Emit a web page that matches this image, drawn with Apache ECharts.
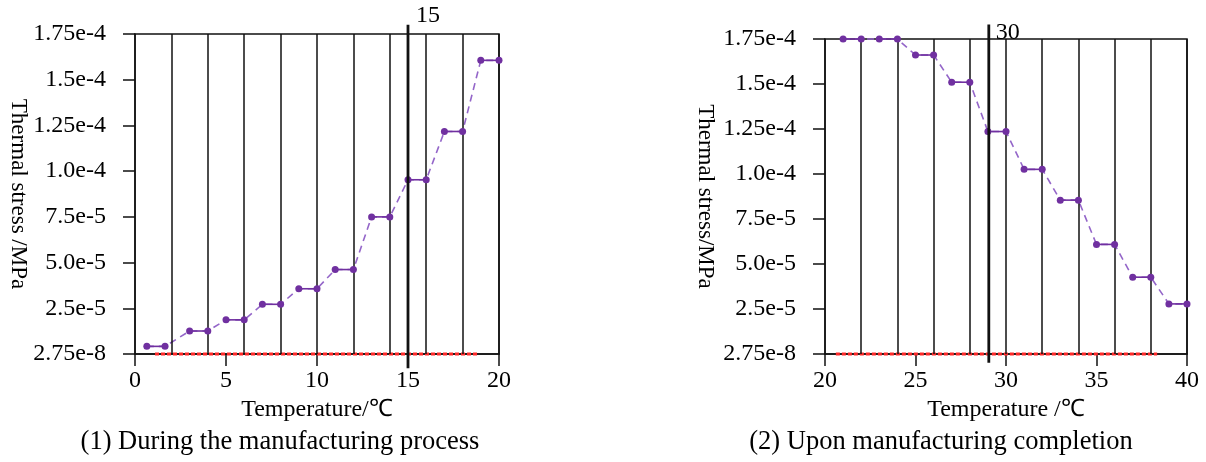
<!DOCTYPE html>
<html><head><meta charset="utf-8">
<script src="https://cdn.jsdelivr.net/npm/echarts@6/dist/echarts.min.js"></script>
<style>html,body{margin:0;padding:0;background:#fff}#c{width:1206px;height:462px}</style>
</head><body><div id="c"></div>
<script>
// ---- data ----
const yTickValues = [2.75e-8, 2.5e-5, 5e-5, 7.5e-5, 1e-4, 1.25e-4, 1.5e-4, 1.75e-4];
const yTickLabels = ['2.75e-8', '2.5e-5', '5.0e-5', '7.5e-5', '1.0e-4', '1.25e-4', '1.5e-4', '1.75e-4'];

const leftX = [0.65, 1.65, 3, 4, 5, 6, 7, 8, 9, 10, 11, 12, 13, 14, 15, 16, 17, 18, 19, 20];
const leftY = [4.2e-6, 4.2e-6, 1.26e-5, 1.26e-5, 1.87e-5, 1.87e-5, 2.72e-5, 2.72e-5, 3.57e-5, 3.57e-5,
               4.62e-5, 4.62e-5, 7.5e-5, 7.5e-5, 9.53e-5, 9.53e-5, 1.217e-4, 1.217e-4, 1.606e-4, 1.606e-4];
const leftVLines = [2, 4, 6, 8, 10, 12, 14, 16, 18, 20];
const leftMarkX = 15, leftMarkLabel = '15', leftMarkFrom = -7.7e-6, leftMarkTo = 1.8e-4;
const leftRedSpan = [1.1, 18.9];

const rightX = [21, 22, 23, 24, 25, 26, 27, 28, 29, 30, 31, 32, 33, 34, 35, 36, 37, 38, 39, 40];
const rightY = [1.75e-4, 1.75e-4, 1.75e-4, 1.75e-4, 1.661e-4, 1.661e-4, 1.51e-4, 1.51e-4, 1.236e-4, 1.236e-4,
                1.026e-4, 1.026e-4, 8.55e-5, 8.55e-5, 6.09e-5, 6.09e-5, 4.27e-5, 4.27e-5, 2.785e-5, 2.785e-5];
const rightVLines = [22, 24, 26, 28, 30, 32, 34, 36, 38, 40];
const rightMarkX = 29.05, rightMarkLabel = '30', rightMarkFrom = -4.8e-6, rightMarkTo = 1.83e-4;
const rightRedSpan = [20.6, 38.35];

const xTitles = ['Temperature/\u2103', 'Temperature /\u2103'];
const yTitles = ['Thermal stress /MPa', 'Thermal stress/MPa'];
const captions = ['(1) During the manufacturing process', '(2) Upon manufacturing completion'];

// ---- styles ----
const FONT = 'Liberation Serif';
const PURPLE = '#7030a0';
const PURPLE_DASH = '#9466c9';
const BLACK = '#111';

function yLabel(v) {
  let best = 0;
  for (let i = 1; i < yTickValues.length; i++) {
    if (Math.abs(yTickValues[i] - v) < Math.abs(yTickValues[best] - v)) best = i;
  }
  return yTickLabels[best];
}

function xAxisCfg(gi, min, max) {
  return {
    type: 'value', gridIndex: gi, min: min, max: max, interval: 5,
    name: xTitles[gi], nameLocation: 'middle', nameGap: 43,
    nameTextStyle: {fontFamily: FONT, fontSize: 24, color: '#000'},
    axisLine: {lineStyle: {color: BLACK, width: 1.5}},
    axisTick: {show: true, length: 12, inside: false, lineStyle: {color: BLACK, width: 1.5}},
    axisLabel: {fontFamily: FONT, fontSize: 24, color: '#000', margin: 15},
    splitLine: {show: false}
  };
}
function yAxisCfg(gi, gap) {
  return {
    type: 'value', gridIndex: gi, min: yTickValues[0], max: yTickValues[yTickValues.length - 1],
    name: yTitles[gi], nameLocation: 'middle', nameGap: gap, nameRotate: -90,
    nameTextStyle: {fontFamily: FONT, fontSize: 23, color: '#000'},
    axisLine: {show: true, lineStyle: {color: BLACK, width: 1.5}},
    axisTick: {show: true, length: 12, inside: false, customValues: yTickValues, lineStyle: {color: BLACK, width: 1.5}},
    axisLabel: {fontFamily: FONT, fontSize: 24, color: '#000', margin: 29, customValues: yTickValues, formatter: yLabel},
    splitLine: {show: false}
  };
}

function chartSeries(gi, xs, ys, vlines, mx, mlabel, mfrom, mto, red, labelOffset) {
  const s = [];
  // vertical lines carrier
  s.push({
    type: 'line', xAxisIndex: gi, yAxisIndex: gi, silent: true, data: [], z: 2,
    markLine: {
      silent: true, symbol: ['none', 'none'], label: {show: false},
      lineStyle: {color: BLACK, width: 1.5, type: 'solid'},
      data: vlines.map(v => ({xAxis: v}))
    }
  });
  // red dotted baseline
  s.push({
    type: 'line', xAxisIndex: gi, yAxisIndex: gi, clip: false, silent: true,
    data: [[red[0], yTickValues[0]], [red[1], yTickValues[0]]],
    symbol: 'none', lineStyle: {color: '#ff2a2a', width: 3, type: [4, 2]}, z: 3
  });
  // dashed connecting line
  s.push({
    type: 'line', xAxisIndex: gi, yAxisIndex: gi, silent: true, clip: false,
    data: xs.map((x, i) => [x, ys[i]]), symbol: 'none',
    lineStyle: {color: PURPLE_DASH, width: 1.6, type: [7, 5]}, z: 4
  });
  // solid pairs
  for (let i = 0; i + 1 < xs.length; i += 2) {
    s.push({
      type: 'line', xAxisIndex: gi, yAxisIndex: gi, silent: true, clip: false,
      data: [[xs[i], ys[i]], [xs[i + 1], ys[i + 1]]],
      symbol: 'circle', symbolSize: 7, showSymbol: true,
      itemStyle: {color: PURPLE}, lineStyle: {color: PURPLE, width: 1.6}, z: 5
    });
  }
  // thick marker line
  s.push({
    type: 'line', xAxisIndex: gi, yAxisIndex: gi, silent: true, clip: false,
    data: [[mx, mfrom], [mx, mto]], symbol: 'none',
    lineStyle: {color: BLACK, width: 2.8}, z: 6,
    endLabel: {show: true, formatter: () => mlabel, fontFamily: FONT, fontSize: 24, color: '#000', distance: 6, offset: labelOffset}
  });
  return s;
}

const option = {
  animation: false,
  backgroundColor: '#fff',
  title: [
    {text: captions[0], left: 275, top: 424, textAlign: 'center', textStyle: {fontFamily: FONT, fontSize: 26.5, fontWeight: 'normal', color: '#000'}},
    {text: captions[1], left: 936, top: 424, textAlign: 'center', textStyle: {fontFamily: FONT, fontSize: 26.5, fontWeight: 'normal', color: '#000'}}
  ],
  grid: [
    {left: 135, top: 34, width: 364, height: 320, show: true, borderColor: BLACK, borderWidth: 1.5, backgroundColor: 'transparent'},
    {left: 825, top: 39, width: 362, height: 315, show: true, borderColor: BLACK, borderWidth: 1.5, backgroundColor: 'transparent'}
  ],
  xAxis: [xAxisCfg(0, 0, 20), xAxisCfg(1, 20, 40)],
  yAxis: [yAxisCfg(0, 104), yAxisCfg(1, 108)],
  series: [].concat(
    chartSeries(0, leftX, leftY, leftVLines, leftMarkX, leftMarkLabel, leftMarkFrom, leftMarkTo, leftRedSpan, [2, -9]),
    chartSeries(1, rightX, rightY, rightVLines, rightMarkX, rightMarkLabel, rightMarkFrom, rightMarkTo, rightRedSpan, [1, 8])
  )
};
const chart = echarts.init(document.getElementById('c'), null, {renderer: 'canvas'});
chart.setOption(option);
</script>
</body></html>
